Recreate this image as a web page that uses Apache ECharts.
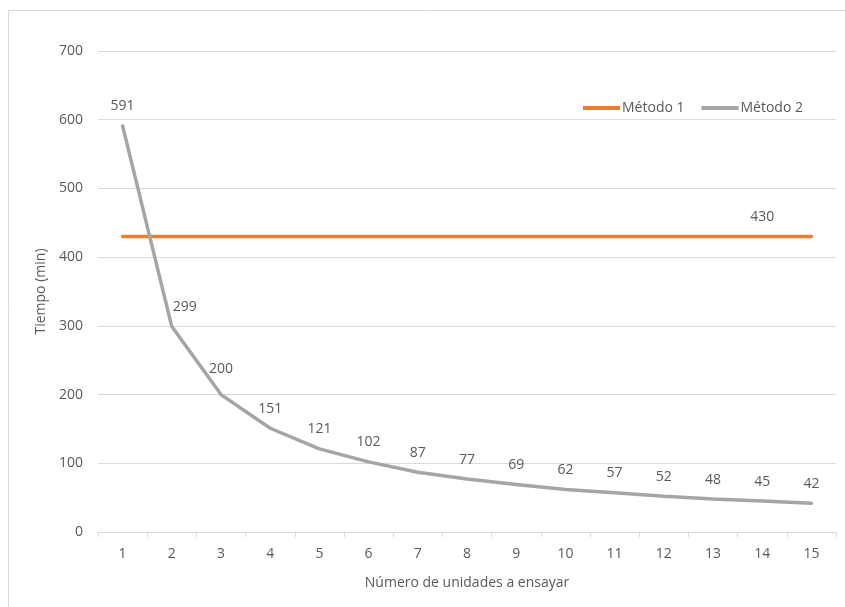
<!DOCTYPE html>
<html><head><meta charset="utf-8">
<script src="https://cdn.jsdelivr.net/npm/echarts@6/dist/echarts.min.js"></script>
<style>html,body{margin:0;padding:0;background:#fff}#c{width:845px;height:607px}</style>
</head><body><div id="c"></div>
<script>
const categories = ['1','2','3','4','5','6','7','8','9','10','11','12','13','14','15'];
const metodo1 = [430,430,430,430,430,430,430,430,430,430,430,430,430,430,430];
const metodo2 = [591,299,200,151,121,102,87,77,69,62,57,52,48,45,42];
const yTicks = [0,100,200,300,400,500,600,700];
const FONT = 'Open Sans';
const TXT = '#595959';
const FS = 14;
const C1 = '#ED7D31', C2 = '#A5A5A5';

const chart = echarts.init(document.getElementById('c'), null, {renderer:'canvas'});
const m1Data = metodo1.map((v,i)=> i===13 ? {value:v, label:{show:true}} : v);
const m2Data = metodo2.map((v,i)=> {
  if (i===1) return {value:v, label:{offset:[13,0]}};
  if (i===2) return {value:v, label:{distance:18}};
  return v;
});
const hidden = {color:'rgba(0,0,0,0)', borderWidth:0};
chart.setOption({
  animation:false,
  textStyle:{fontFamily:FONT, color:TXT},
  graphic:[{type:'rect', shape:{x:8.5,y:10.5,width:850,height:620}, style:{fill:null, stroke:'#d9d9d9', lineWidth:1}, silent:true}],
  legend:{
    right:37, top:96, itemWidth:37, itemHeight:4, itemGap:17,
    icon:'rect',
    textStyle:{fontFamily:FONT, fontSize:FS, color:TXT, padding:[0,0,0,-3]},
    data:[
      {name:'Método 1', itemStyle:{color:C1, borderWidth:0}},
      {name:'Método 2', itemStyle:{color:C2, borderWidth:0}}
    ]
  },
  grid:{left:98, right:9, top:51, bottom:75},
  xAxis:{
    type:'category', data:categories, boundaryGap:true,
    name:'Número de unidades a ensayar', nameLocation:'middle', nameGap:44,
    nameTextStyle:{fontFamily:FONT, fontSize:FS, color:TXT},
    axisLine:{lineStyle:{color:'#d9d9d9', width:1}},
    axisTick:{show:true, length:5, lineStyle:{color:'#d9d9d9'}},
    axisLabel:{fontFamily:FONT, fontSize:FS, color:TXT, margin:15}
  },
  yAxis:{
    type:'value', min:yTicks[0], max:yTicks[yTicks.length-1], interval:100,
    name:'Tiempo (min)', nameLocation:'middle', nameGap:50, nameRotate:90,
    nameTextStyle:{fontFamily:FONT, fontSize:FS, color:TXT},
    axisLine:{show:false}, axisTick:{show:false},
    axisLabel:{fontFamily:FONT, fontSize:FS, color:TXT, margin:15},
    splitLine:{lineStyle:{color:'#d9d9d9', width:1}}
  },
  series:[
    {name:'Método 1', type:'line', data:m1Data, symbol:'circle', symbolSize:1, showSymbol:true,
     lineStyle:{color:C1, width:3.5, cap:'round'}, itemStyle:hidden,
     label:{show:false, position:'top', distance:12, fontFamily:FONT, fontSize:FS, color:TXT}},
    {name:'Método 2', type:'line', data:m2Data, symbol:'circle', symbolSize:1, showSymbol:true,
     lineStyle:{color:C2, width:3.5, cap:'round'}, itemStyle:hidden,
     label:{show:true, position:'top', distance:12, fontFamily:FONT, fontSize:FS, color:TXT}}
  ]
});
</script></body></html>
